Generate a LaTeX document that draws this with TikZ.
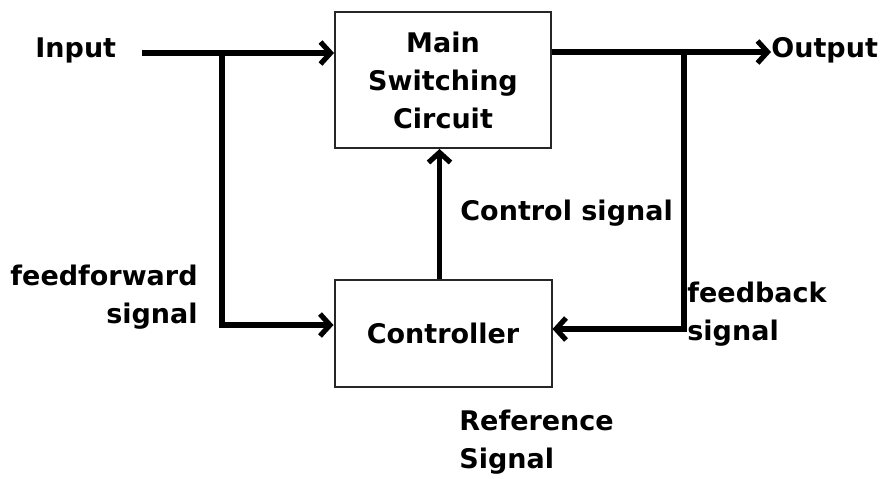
\documentclass[tikz,border=0pt]{standalone}
\usepackage{fontspec}
\setmainfont{DejaVu Sans}
\usepackage{tikz}
\usetikzlibrary{arrows.meta,positioning,calc}

\begin{document}
\begin{tikzpicture}[x=0.5pt,y=-0.5pt,>={Straight Barb[length=5pt,width=11pt]},
  lbl/.style={font=\fontsize{13.5}{19}\selectfont\bfseries,inner sep=0pt},
  blk/.style={draw=black!85,line width=1pt,minimum width=108pt,minimum height=68pt,align=center,font=\fontsize{13.5}{19}\selectfont\bfseries},
  sig/.style={line width=2.6pt}]
\useasboundingbox (0,0) rectangle (892,478);
\node[blk] (main) at (443,80) {Main\\Switching\\Circuit};
\node[blk,minimum width=108.5pt,minimum height=53.5pt,below=65pt of main] (ctrl) {Controller};
\node[lbl,anchor=west] (inlbl) at (35,50) {Input};
\node[lbl,anchor=west] (outlbl) at (771,50) {Output};
\node[lbl,anchor=west] (ctrlsig) at (460,213) {Control signal};
\node[lbl,anchor=east,align=right] (ffsig) at (198,297) {feedforward\\signal};
\node[lbl,anchor=west,align=left] (fbsig) at (687,314) {feedback\\signal};
\node[lbl,anchor=north west,align=left,below right=11pt and 8pt of ctrl.south] (refsig) {Reference\\Signal};
\coordinate (ffjoin) at (222,53);
\coordinate (fbjoin) at (684,52);
\draw[sig,->,shorten <=12.5pt] (inlbl.east |- ffjoin) -- (ffjoin -| main.west);
\draw[sig,->] (ffjoin) |- ([yshift=4.25pt]ctrl.west);
\draw[sig,->] (main.east |- fbjoin) -- (fbjoin -| outlbl.west);
\draw[sig,->] (fbjoin) |- ([yshift=2.25pt]ctrl.east);
\draw[sig,->] ([xshift=-1.75pt]ctrl.north) -- ([xshift=-1.75pt]ctrl.north |- main.south);
\end{tikzpicture}
\end{document}
